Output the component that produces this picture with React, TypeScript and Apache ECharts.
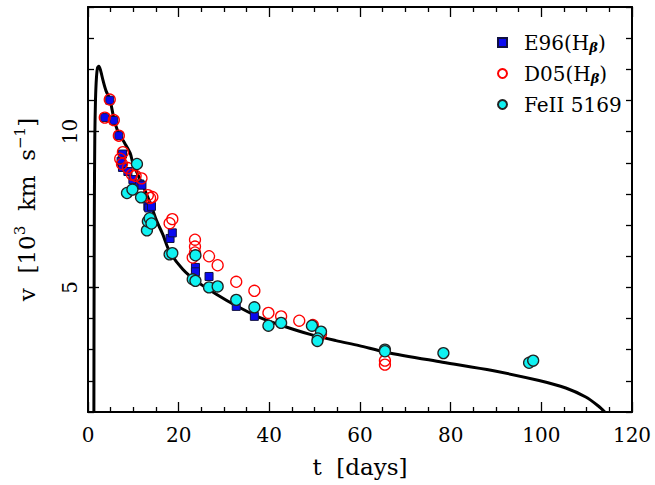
import React, { useEffect, useRef } from 'react';
import * as echarts from 'echarts';

const yLabelValues = [5, 10];
const yMajorTicks = [5, 10];

// model velocity curve [t (days), v (10^3 km/s)]
const modelCurve: [number, number][] = [
  [1.3, 1.0], [1.33, 4.0], [1.4, 7.5], [1.5, 9.8], [1.65, 11.0], [1.85, 11.7],
  [2.1, 12.05], [2.4, 12.1], [2.8, 11.95], [3.3, 11.65], [4.0, 11.3], [4.8, 11.05],
  [5.7, 10.43], [6.6, 10.0], [8.1, 9.63], [9.3, 9.31], [9.9, 8.99], [11.0, 8.62],
  [12.5, 8.14], [14.0, 7.6], [15.1, 7.15], [16.5, 6.7], [18.0, 6.15], [20.9, 5.58],
  [23.9, 5.2], [28.3, 4.78], [32.7, 4.41], [37.8, 4.04], [42.9, 3.77], [48.8, 3.5],
  [54.7, 3.29], [59.8, 3.13], [65.7, 2.92], [78.2, 2.6], [89.2, 2.33], [99.5, 2.01],
  [105.4, 1.77], [109.8, 1.48], [112.5, 1.2], [114.0, 1.0],
];

const e96: [number, number][] = [
  [3.7, 10.45], [4.8, 11.01], [5.7, 10.36], [6.8, 9.87], [7.6, 9.28], [7.3, 9.05],
  [7.6, 8.85], [8.8, 8.72], [9.9, 8.46], [11.4, 8.32], [11.9, 8.28], [13.2, 7.6],
  [13.4, 7.55], [14.0, 7.6], [18.1, 6.57], [18.6, 6.75], [23.7, 5.64], [23.7, 5.5],
  [26.7, 5.35], [32.7, 4.39], [36.7, 4.07],
];

const d05: [number, number][] = [
  [3.7, 10.45], [4.8, 11.03], [5.7, 10.37], [6.8, 9.87], [7.7, 9.34], [7.1, 9.13],
  [7.5, 8.96], [8.8, 8.83], [9.7, 8.62], [10.5, 8.58], [11.8, 8.5], [13.2, 7.96],
  [13.7, 7.87], [14.2, 7.9], [18.0, 7.06], [18.6, 7.19], [23.6, 6.53], [23.6, 6.31],
  [23.6, 6.12], [23.1, 5.96], [26.7, 6.0], [28.6, 5.71], [32.7, 5.18], [36.7, 4.89],
  [39.8, 4.18], [42.6, 4.07], [46.6, 3.93], [49.6, 3.79], [51.4, 3.5], [65.5, 2.65],
  [65.5, 2.52],
];

const fe2: [number, number][] = [
  [8.6, 8.03], [9.8, 8.14], [10.8, 8.96], [11.7, 7.89], [13.0, 6.83], [13.2, 7.12],
  [13.6, 7.22], [14.0, 7.05], [18.0, 6.06], [18.6, 6.1], [23.7, 6.03], [23.1, 5.26],
  [23.7, 5.21], [26.7, 5.0], [28.6, 5.03], [32.7, 4.6], [36.7, 4.36], [39.8, 3.77],
  [42.6, 3.86], [49.4, 3.77], [51.4, 3.58], [50.7, 3.36], [50.6, 3.28], [65.5, 3.0],
  [65.5, 2.95], [78.4, 2.89], [97.3, 2.58], [98.2, 2.65],
];

const legendLabels: Record<string, string> = {
  E96: 'E96(H{sub|β})',
  D05: 'D05(H{sub|β})',
  FeII: 'FeII 5169',
};

export default function App() {
  const ref = useRef<HTMLDivElement>(null);
  useEffect(() => {
    document.body.style.margin = '0';
    const chart = echarts.init(ref.current!, null, { renderer: 'svg' });
    const font = 'DejaVu Serif';
    const black = '#000';
    const xBase = {
      type: 'value',
      min: 0,
      max: 120,
      interval: 20,
      splitLine: { show: false },
      axisLine: { show: true, lineStyle: { color: black, width: 2 } },
      axisTick: { show: true, inside: true, length: 10, lineStyle: { color: black, width: 1.3 } },
      minorTick: { show: true, splitNumber: 4, length: 5, lineStyle: { color: black, width: 1.3 } },
    };
    const yBase = {
      type: 'value',
      min: 1,
      max: 14,
      interval: 1,
      splitLine: { show: false },
      axisLine: { show: true, onZero: false, lineStyle: { color: black, width: 2 } },
      axisTick: { show: true, inside: true, length: 6, lineStyle: { color: black, width: 1.3 } },
    };
    chart.setOption({
      animation: false,
      backgroundColor: '#fff',
      grid: { left: 88, right: 23, top: 7, bottom: 73 },
      legend: {
        orient: 'vertical',
        left: 492,
        top: 26,
        itemWidth: 9,
        itemHeight: 9,
        itemGap: 8,
        data: [
          { name: 'E96', icon: 'rect' },
          { name: 'D05', icon: 'circle' },
          { name: 'FeII', icon: 'circle' },
        ],
        formatter: (n: string) => legendLabels[n] || n,
        textStyle: {
          fontFamily: font,
          fontSize: 20,
          color: black,
          lineHeight: 23,
          padding: [0, 0, 0, 12],
          rich: {
            sub: {
              fontFamily: font,
              fontSize: 13,
              fontWeight: 'bold',
              fontStyle: 'italic',
              verticalAlign: 'bottom',
              color: black,
              lineHeight: 23,
            },
          },
        },
      },
      xAxis: [
        {
          ...xBase,
          position: 'bottom',
          axisLabel: { show: true, color: black, fontFamily: font, fontSize: 20, margin: 13 },
          name: 't  [days]',
          nameLocation: 'middle',
          nameGap: 43,
          nameTextStyle: { color: black, fontFamily: font, fontSize: 23 },
        },
        { ...xBase, position: 'top', axisLabel: { show: false } },
      ],
      yAxis: [
        {
          ...yBase,
          position: 'left',
          axisLabel: {
            show: true,
            rotate: 90,
            color: black,
            fontFamily: font,
            fontSize: 20,
            margin: 8,
            formatter: (v: number) => (yLabelValues.includes(v) ? String(v) : ''),
          },
          name: 'v  [10{sup|3}  km  s{sup|−1}]',
          nameLocation: 'middle',
          nameRotate: 90,
          nameGap: 47,
          nameTextStyle: {
            color: black,
            fontFamily: font,
            fontSize: 23,
            lineHeight: 29,
            rich: {
              sup: {
                fontFamily: font,
                fontSize: 15,
                color: black,
                verticalAlign: 'top',
                lineHeight: 29,
              },
            },
          },
        },
        { ...yBase, position: 'right', axisLabel: { show: false } },
        {
          ...yBase,
          position: 'left',
          axisLine: { show: false },
          axisLabel: { show: false },
          axisTick: {
            show: true,
            inside: true,
            length: 11,
            customValues: yMajorTicks,
            lineStyle: { color: black, width: 1.3 },
          },
        },
      ],
      series: [
        {
          name: 'model',
          type: 'line',
          data: modelCurve,
          showSymbol: false,
          smooth: 0.3,
          lineStyle: { color: black, width: 3 },
          z: 2,
        },
        {
          name: 'E96',
          type: 'scatter',
          data: e96,
          symbol: 'rect',
          symbolSize: 8,
          itemStyle: { color: '#0a0af0', borderColor: '#101040', borderWidth: 1, opacity: 1 },
          z: 3,
        },
        {
          name: 'D05',
          type: 'scatter',
          data: d05,
          symbol: 'circle',
          symbolSize: 11,
          itemStyle: { color: 'rgba(255,255,255,0)', borderColor: '#ff0000', borderWidth: 1.3, opacity: 1 },
          z: 4,
        },
        {
          name: 'FeII',
          type: 'scatter',
          data: fe2,
          symbol: 'circle',
          symbolSize: 11,
          itemStyle: { color: '#10f2f2', borderColor: '#222', borderWidth: 1.3, opacity: 1 },
          z: 5,
        },
      ],
    });
    return () => chart.dispose();
  }, []);
  return <div ref={ref} style={{ width: 655, height: 485 }} />;
}
